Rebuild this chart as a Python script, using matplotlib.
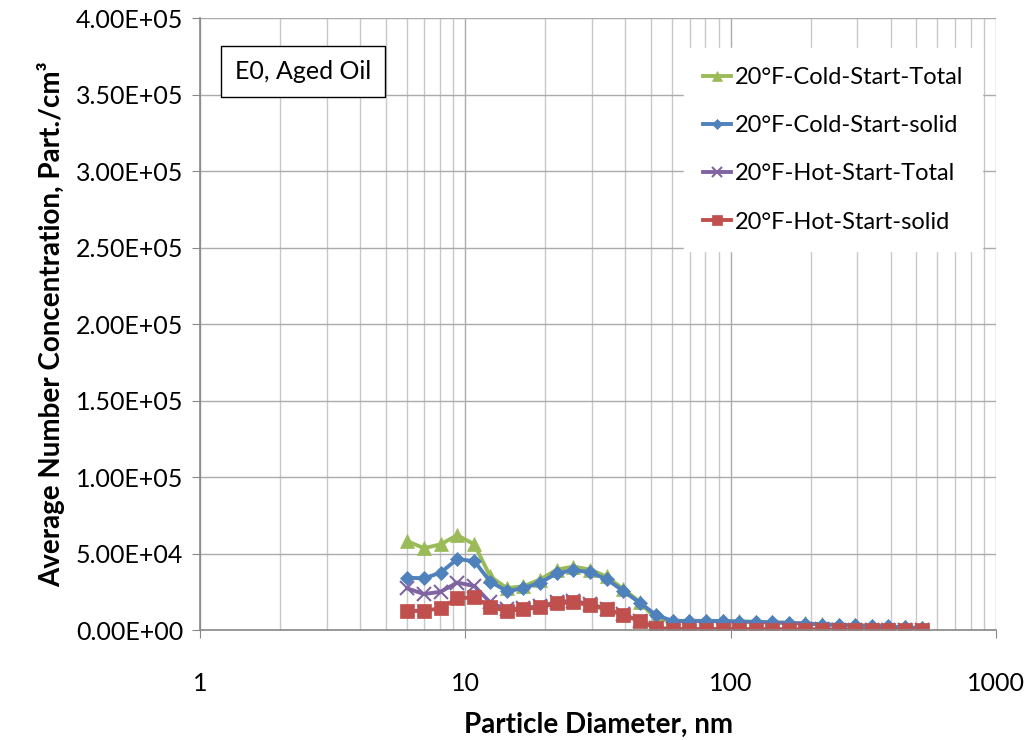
import matplotlib.pyplot as plt
from matplotlib.ticker import FuncFormatter, LogLocator, NullFormatter

plt.rcParams['font.family'] = ['Lato', 'DejaVu Sans']

# EEPS channel mid-point diameters (nm)
diameter = [6.04, 6.98, 8.06, 9.31, 10.8, 12.4, 14.3, 16.5, 19.1, 22.1, 25.5,
            29.4, 34.0, 39.2, 45.3, 52.3, 60.4, 69.8, 80.6, 93.1, 107.5, 124.1,
            143.3, 165.5, 191.1, 220.7, 254.8, 294.3, 339.8, 392.4, 453.2, 523.3]

cold_total = [58000, 53500, 56000, 62000, 56000, 35000, 27500, 28500, 33000,
              39500, 41500, 39500, 35000, 27000, 18500, 7000, 6000, 6000,
              6000, 6000, 5600, 5400, 5100, 4700, 4300, 3800, 3300, 3000,
              2600, 2200, 1800, 1400]
cold_solid = [34200, 33800, 37500, 46400, 45000, 31600, 25500, 27200, 31000,
              37000, 39200, 37800, 33300, 25700, 17900, 9800, 5900, 5900,
              5900, 5900, 5500, 5300, 5000, 4600, 4200, 3600, 3300, 3000,
              2700, 2400, 1800, 1300]
hot_total = [27200, 23500, 25000, 31000, 28800, 18000, 13500, 14500, 15500,
             18500, 19000, 17000, 14000, 10200, 6200, 1500, 700, 600, 600,
             600, 500, 500, 500, 400, 400, 400, 300, 300, 300, 300, 200, 200]
hot_solid = [12400, 12600, 14200, 20700, 21400, 15200, 12400, 13500, 14800,
             17400, 18100, 16300, 13500, 9800, 5900, 1100, 300, 300, 300,
             300, 300, 300, 300, 300, 200, 200, 200, 200, 200, 200, 100, 100]

series = [
    ('20°F-Cold-Start-Total', cold_total, '#9BBB59', '^', 10),
    ('20°F-Cold-Start-solid', cold_solid, '#4F81BD', 'D', 7.5),
    ('20°F-Hot-Start-Total', hot_total, '#8064A2', 'x', 10),
    ('20°F-Hot-Start-solid', hot_solid, '#C0504D', 's', 10),
]

fig = plt.figure(figsize=(10.26, 7.4), dpi=100)
ax = fig.add_axes([0.195, 0.1486, 0.776, 0.827])

for label, values, color, marker, ms in series:
    ax.plot(diameter, values, color=color, lw=2.8, marker=marker, ms=ms,
            mew=1.5 if marker == 'x' else 0.5, mec=color, mfc=color,
            label=label)

ax.set_xscale('log')
ax.set_xlim(1, 1000)
ax.set_ylim(0, 400000)
ax.set_yticks(range(0, 400001, 50000))
ax.yaxis.set_major_formatter(FuncFormatter(lambda v, p: '{:.2E}'.format(v)))
ax.xaxis.set_major_formatter(FuncFormatter(lambda v, p: '%g' % v))
ax.xaxis.set_minor_locator(LogLocator(base=10, subs=range(2, 10)))
ax.xaxis.set_minor_formatter(NullFormatter())

ax.grid(True, which='major', color='#ABABAB', lw=1.0)
ax.grid(True, which='minor', axis='x', color='#C8C8C8', lw=1.0)
ax.set_axisbelow(True)
for side in ['top', 'right']:
    ax.spines[side].set_visible(False)
for side in ['left', 'bottom']:
    ax.spines[side].set_color('#888888')
    ax.spines[side].set_linewidth(1.2)

ax.tick_params(axis='both', which='major', labelsize=18, length=6,
               color='#888888', direction='out')
ax.tick_params(axis='x', which='minor', length=0)
ax.tick_params(axis='x', pad=24)
ax.tick_params(axis='y', pad=6)

ax.set_xlabel('Particle Diameter, nm', fontsize=20, fontweight='bold',
              labelpad=12)
ax.set_ylabel('Average Number Concentration, Part./cm³', fontsize=20,
              fontweight='bold', labelpad=8)

ax.text(0.044, 0.9125, 'E0, Aged Oil', transform=ax.transAxes, fontsize=18,
        va='center', ha='left',
        bbox=dict(boxstyle='square,pad=0.55', fc='white', ec='black', lw=1))

leg = ax.legend(loc='upper right', bbox_to_anchor=(0.997, 0.97), fontsize=17,
                frameon=True, fancybox=False, edgecolor='white',
                framealpha=1, labelspacing=1.15, handlelength=1.2,
                handletextpad=0.15, borderpad=0.8, markerscale=0.7)

fig.savefig('out.png', dpi=100)
